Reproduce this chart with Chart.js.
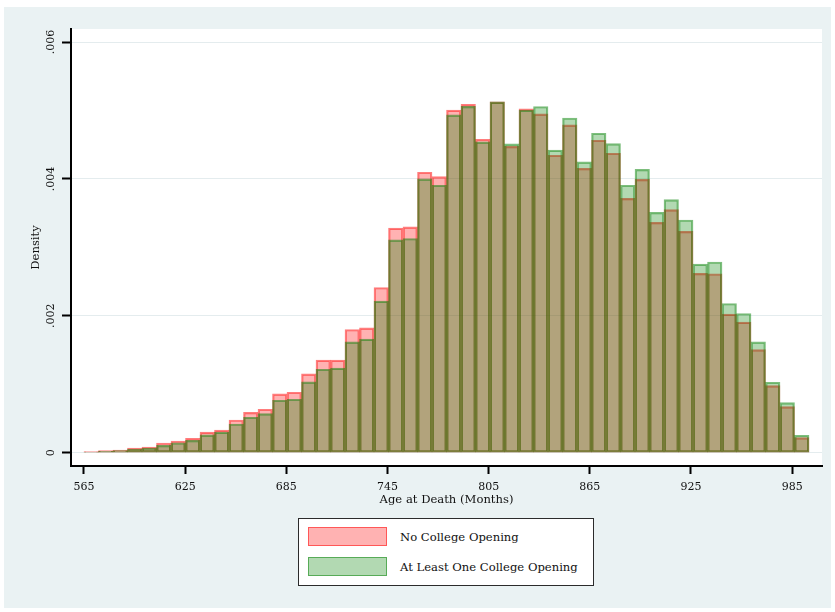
<!DOCTYPE html>
<html>
<head>
<meta charset="utf-8">
<script src="https://cdn.jsdelivr.net/npm/chart.js@4/dist/chart.umd.min.js"></script>
<style>
  html, body { margin: 0; padding: 0; background: #ffffff; }
  #frame { position: absolute; left: 4px; top: 7px; width: 827px; height: 601px; background: #eaf2f3; }
  #chart { position: absolute; left: 0; top: 0; }
  #legend {
    position: absolute; left: 298px; top: 518px; width: 294px; height: 66px;
    border: 1.5px solid #2b2b2b; background: #ffffff;
    font-family: "DejaVu Serif", serif; font-size: 11.6px; color: #111111;
  }
  .item { position: absolute; left: 9px; width: 280px; height: 20px; }
  .swatch { position: absolute; left: 0; top: 0; width: 77px; height: 17px; }
  .label { position: absolute; left: 92px; top: 0; line-height: 20px; white-space: nowrap; }
</style>
</head>
<body>
<div id="frame"></div>
<canvas id="chart" width="835" height="612"></canvas>
<div id="legend"></div>
<script>
// Histogram bins: 50 equal-width bins of age at death (months)
const binStart = 565;
const binWidth = 8.6;

// Density per bin, no college opening
const noCollegeOpening = [
  0.000015, 0.000030, 0.000040, 0.000069, 0.000083, 0.000142, 0.000171, 0.000210, 0.000300, 0.000330,
  0.000478, 0.000590, 0.000635, 0.000859, 0.000884, 0.001151, 0.001352, 0.001352, 0.001800, 0.001824,
  0.002414, 0.003280, 0.003300, 0.004097, 0.004034, 0.005004, 0.005090, 0.004580, 0.005125, 0.004475,
  0.005024, 0.004950, 0.004345, 0.004790, 0.004155, 0.004565, 0.004375, 0.003716, 0.003994, 0.003365,
  0.003551, 0.003233, 0.002619, 0.002614, 0.002025, 0.001908, 0.001507, 0.000980, 0.000673, 0.000220
];

// Density per bin, at least one college opening
const collegeOpening = [
  0.000010, 0.000020, 0.000030, 0.000054, 0.000069, 0.000108, 0.000146, 0.000180, 0.000260, 0.000300,
  0.000420, 0.000518, 0.000571, 0.000767, 0.000781, 0.001034, 0.001220, 0.001235, 0.001620, 0.001659,
  0.002215, 0.003110, 0.003130, 0.004000, 0.003907, 0.004936, 0.005060, 0.004540, 0.005125, 0.004512,
  0.005004, 0.005058, 0.004420, 0.004890, 0.004249, 0.004667, 0.004516, 0.003907, 0.004140, 0.003511,
  0.003697, 0.003400, 0.002756, 0.002786, 0.002180, 0.002034, 0.001620, 0.001030, 0.000732, 0.000255
];

const seriesNames = ['No College Opening', 'At Least One College Opening'];

const xTickValues = [565, 625, 685, 745, 805, 865, 925, 985];
const yTickValues = [0, 0.002, 0.004, 0.006];
const yTickLabels = ['0', '.002', '.004', '.006'];

const xTitle = 'Age at Death (Months)';
const yTitle = 'Density';

const style = {
  fills: ['rgba(255,0,0,0.30)', 'rgba(0,128,0,0.30)'],
  borders: ['rgba(255,0,0,0.51)', 'rgba(0,128,0,0.51)'],
  font: '"DejaVu Serif", serif',
  grid: '#e4ecee'
};

const binCenters = noCollegeOpening.map((_, i) => binStart + binWidth * (i + 0.5));
const toPoints = vals => vals.map((v, i) => ({ x: binCenters[i], y: v }));

// White plotting region behind the bars
const plotBackground = {
  id: 'plotBackground',
  beforeDraw(chart) {
    const { ctx, chartArea: a } = chart;
    ctx.save();
    ctx.fillStyle = '#ffffff';
    ctx.fillRect(a.left, a.top, a.right - a.left, a.bottom - a.top);
    ctx.restore();
  }
};

// Vertical y tick labels, centred on their ticks
const yTickText = {
  id: 'yTickText',
  afterDraw(chart) {
    const s = chart.scales.y;
    const ctx = chart.ctx;
    ctx.save();
    ctx.font = '11px ' + style.font;
    ctx.fillStyle = '#111111';
    ctx.textAlign = 'center';
    ctx.textBaseline = 'middle';
    s.ticks.forEach((t, i) => {
      ctx.save();
      ctx.translate(s.right - 20, s.getPixelForValue(t.value));
      ctx.rotate(-Math.PI / 2);
      ctx.fillText(yTickLabels[i], 0, 0);
      ctx.restore();
    });
    ctx.restore();
  }
};

const datasets = [noCollegeOpening, collegeOpening].map((vals, k) => ({
  label: seriesNames[k],
  data: toPoints(vals),
  backgroundColor: style.fills[k],
  borderColor: style.borders[k],
  borderWidth: 1.5,
  borderSkipped: false,
  grouped: false,
  barPercentage: 1,
  categoryPercentage: 1,
  order: 1 - k
}));

new Chart(document.getElementById('chart'), {
  type: 'bar',
  data: { datasets },
  options: {
    responsive: false,
    animation: false,
    devicePixelRatio: 1,
    layout: { padding: { left: 0, top: 29, right: 13, bottom: 101 } },
    plugins: { legend: { display: false }, tooltip: { enabled: false } },
    scales: {
      x: {
        type: 'linear',
        min: 557.3,
        max: 1002.7,
        offset: false,
        afterFit(s) { s.height = 45; },
        afterBuildTicks(s) { s.ticks = xTickValues.map(v => ({ value: v })); },
        ticks: {
          padding: 7,
          maxRotation: 0,
          color: '#111111',
          font: { family: style.font, size: 11 },
          callback: v => String(v)
        },
        grid: {
          offset: false,
          drawOnChartArea: false,
          drawTicks: true,
          tickLength: 8,
          tickColor: '#000000',
          tickWidth: 2
        },
        border: { display: true, color: '#000000', width: 2 },
        title: {
          display: true,
          text: xTitle,
          color: '#111111',
          font: { family: style.font, size: 11.6 },
          padding: { top: 0, bottom: 4 }
        }
      },
      y: {
        type: 'linear',
        min: -0.000194,
        max: 0.00619,
        afterFit(s) { s.width = 71; },
        afterBuildTicks(s) { s.ticks = yTickValues.map(v => ({ value: v })); },
        ticks: { display: false },
        grid: {
          color: style.grid,
          lineWidth: 1,
          drawTicks: true,
          tickLength: 9,
          tickColor: '#000000',
          tickWidth: 2
        },
        border: { display: true, color: '#000000', width: 2 },
        title: {
          display: true,
          text: yTitle,
          color: '#111111',
          font: { family: style.font, size: 11.6 },
          padding: { top: 29, bottom: 0 }
        }
      }
    }
  },
  plugins: [plotBackground, yTickText]
});

// Legend box below the plot
const legend = document.getElementById('legend');
seriesNames.forEach((name, k) => {
  const item = document.createElement('div');
  item.className = 'item';
  item.style.top = (8 + 30 * k) + 'px';
  const sw = document.createElement('div');
  sw.className = 'swatch';
  sw.style.background = style.fills[k];
  sw.style.border = '1.5px solid ' + style.borders[k];
  const lab = document.createElement('div');
  lab.className = 'label';
  lab.textContent = name;
  item.appendChild(sw);
  item.appendChild(lab);
  legend.appendChild(item);
});
</script>
</body>
</html>
